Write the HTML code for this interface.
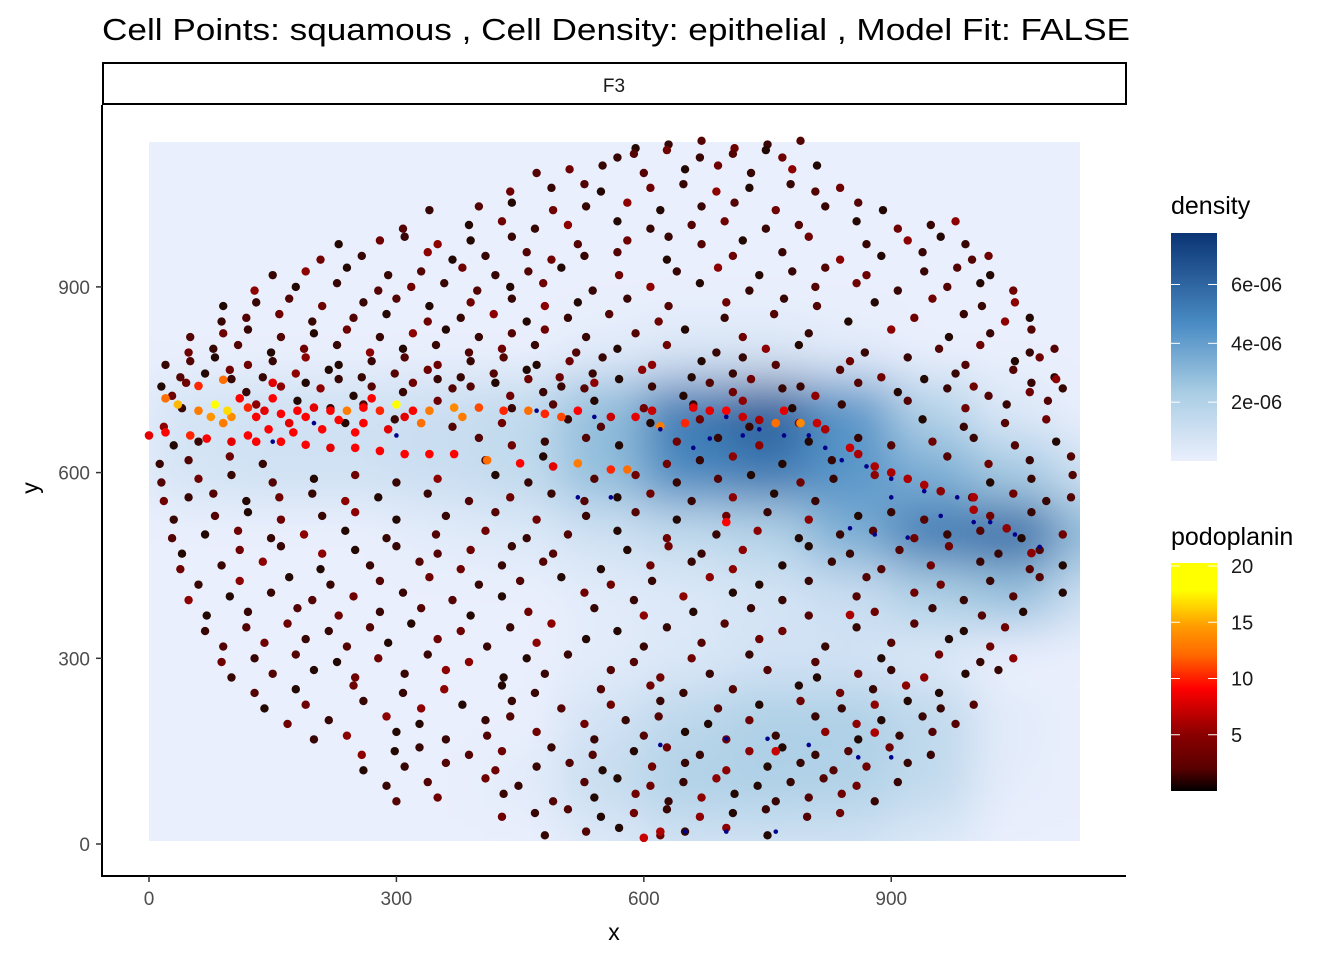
<!DOCTYPE html>
<html><head><meta charset="utf-8"><style>
body{margin:0;background:#fff;font-family:"Liberation Sans",Arial,sans-serif}
svg text{font-family:"Liberation Sans",Arial,sans-serif}
</style></head><body>
<svg id="chart" width="1344" height="960" xmlns="http://www.w3.org/2000/svg">
<defs>
<filter id="blur" x="-5%" y="-5%" width="110%" height="110%"><feGaussianBlur stdDeviation="24"/></filter>
<clipPath id="rclip"><rect x="149" y="142" width="931" height="699"/></clipPath>
<linearGradient id="dgrad" x1="0" y1="1" x2="0" y2="0">
<stop offset="0" stop-color="#eaeffd"/><stop offset="0.3" stop-color="#a9cde4"/><stop offset="0.6" stop-color="#4a8cc4"/><stop offset="1" stop-color="#0b3474"/></linearGradient>
<linearGradient id="pgrad" x1="0" y1="1" x2="0" y2="0">
<stop offset="0" stop-color="#000000"/><stop offset="0.1" stop-color="#5a0000"/><stop offset="0.25" stop-color="#8b0000"/><stop offset="0.45" stop-color="#ff0000"/><stop offset="0.6" stop-color="#ff6a00"/><stop offset="0.72" stop-color="#ff9a00"/><stop offset="0.88" stop-color="#ffff00"/><stop offset="1" stop-color="#ffff00"/></linearGradient>
</defs>
<text x="102" y="40" font-size="31" textLength="1028" lengthAdjust="spacingAndGlyphs" fill="#000">Cell Points: squamous , Cell Density: epithelial , Model Fit: FALSE</text>
<rect x="103" y="63" width="1023" height="41" fill="#fff" stroke="#000" stroke-width="2"/>
<text x="614" y="92" font-size="19" text-anchor="middle" fill="#1a1a1a">F3</text>
<g clip-path="url(#rclip)">
<rect x="149" y="142" width="931" height="699" fill="#eaeffd"/>
<g id="cells" filter="url(#blur)"></g>
</g>
<g id="pts"></g>
<line x1="102" y1="105" x2="102" y2="876" stroke="#000" stroke-width="2"/>
<line x1="101" y1="876" x2="1126" y2="876" stroke="#000" stroke-width="2"/>
<g id="axes"></g>
<text x="614" y="940" font-size="23" text-anchor="middle">x</text>
<text x="38" y="488" font-size="23" text-anchor="middle" transform="rotate(-90 38 488)">y</text>
<g>
<text x="1171" y="214" font-size="25">density</text>
<rect x="1171" y="233" width="46" height="228" fill="url(#dgrad)"/>
<g id="dleg"></g>
</g>
<g>
<text x="1171" y="545" font-size="25">podoplanin</text>
<rect x="1171" y="563" width="46" height="228" fill="url(#pgrad)"/>
<g id="pleg"></g>
</g>
</svg>
<script>
const xTicks=[0,300,600,900];
const yTicks=[0,300,600,900];
const gridX=[50,150,250,350,450,550,650,750,850,950,1050,1150];
const gridY=[1100,1000,900,800,700,600,500,400,300,200,100,0];
const densityGrid=[
[0,0,0,0,0,0,0,0,0,0,0,0],
[0,0,0,0,0,0,0,0,0,0,0,0],
[0,0,0,0,0,0,0,0,0,0,0,0],
[0,0,0,0,0,0.3,0.6,0.6,0.3,0,0,0],
[0.8,1,1,1.2,1.5,3,5.5,6.5,4.5,2,0.5,0],
[0.8,1,1,1.2,1.5,3,5,5.5,4.5,3.5,2.5,1],
[0,0,0,0.3,0.5,1,1.5,2,3.5,5.5,6,3],
[0,0,0,0,0,0.3,0.5,0.8,1.2,2.2,2.8,1],
[0,0,0,0,0,0.3,0.6,0.9,0.9,0.5,0,0],
[0,0,0,0,0,0.9,1.7,2.2,2.2,1.6,0.3,0],
[0,0,0,0,0.3,1.3,2.1,2.2,2.1,1.5,0.2,0],
[0,0,0,0,0,0.5,1,1,1,0.5,0,0]];
const densityTicks=[2,4,6];
const podoTicks=[5,10,15,20];
const darkBands={
1130:"590 630 670 710 750 790",
1115:"560 580 620 660 700 740 760",
1090:"470 510 550 600 650 690 730 780 810",
1060:"430 480 520 540 600 640 680 720 770 800 830",
1030:"340 400 440 490 530 580 620 670 710 760 820 860 890",
1000:"300 380 420 460 500 560 600 650 690 740 780 850 900 940 970",
975:"230 280 310 350 390 440 520 580 630 670 720 800 870 920 960 990",
950:"200 250 330 360 400 450 480 520 560 620 700 760 830 880 930 990 1010",
925:"150 190 240 290 330 380 420 460 500 570 640 690 740 780 820 870 940 980 1020",
900:"120 170 220 270 310 350 390 430 470 530 600 660 720 800 850 900 960 1000 1040",
875:"90 130 170 210 260 300 340 390 440 480 520 580 630 700 770 810 880 950 1010 1050",
850:"80 110 150 190 240 280 330 370 410 450 500 550 610 690 750 840 920 980 1030 1060",
825:"50 90 120 160 200 240 280 320 360 400 440 480 530 590 650 720 800 900 970 1020 1070",
800:"40 70 100 140 180 220 260 300 340 380 420 460 510 560 620 680 740 780 860 950 1000 1060 1090",
780:"20 50 80 120 150 190 230 270 310 350 390 430 470 510 550 610 670 720 760 850 920 990 1050 1080",
760:"30 60 90 130 170 210 250 290 330 370 410 450 490 530 590 650 700 830 880 970 1040 1090",
745:"15 45 100 160 190 230 270 320 350 390 420 460 500 540 570 610 680 730 790 860 940 1000 1070 1100",
730:"20 110 200 240 300 360 430 470 520 640 700 760 800 900 960 1010 1060 1100",
710:"40 130 180 220 260 350 440 490 540 600 660 720 780 840 920 990 1040 1090",
680:"10 230 290 360 420 500 540 600 660 720 780 930 980 1030 1080",
650:"30 60 400 440 480 530 570 640 690 740 800 860 900 950 1000 1050 1100",
620:"5 40 90 130 400 470 620 660 700 760 820 960 1010 1060 1110",
590:"15 60 100 150 200 250 300 350 420 460 540 590 640 690 730 790 830 880 1020 1070 1120",
560:"10 40 70 110 150 190 230 270 330 380 430 480 520 560 600 650 700 750 800 990 1040 1080 1110",
530:"30 80 120 160 210 250 300 360 420 470 530 590 640 700 750 800 860 900 940 1020 1070",
500:"20 60 100 140 180 230 280 340 400 450 500 560 620 680 730 780 830 870 920 960 1000 1050 1100",
475:"40 110 160 210 250 300 350 390 440 490 580 630 670 720 800 850 910 970 1030 1080",
450:"30 80 130 200 260 320 370 420 470 540 600 650 700 760 820 880 940 1000 1060 1100",
425:"60 110 170 220 280 340 400 450 500 560 610 680 740 800 870 960 1020 1080",
400:"40 90 140 190 240 300 360 420 520 580 640 700 760 850 920 980 1040 1100",
375:"70 120 180 230 280 330 390 460 540 600 660 730 800 880 950 1010 1060",
350:"60 110 160 210 260 310 370 430 480 560 620 690 760 850 920 980 1030",
325:"90 140 190 240 290 350 410 470 530 600 670 740 820 900 970 1020",
300:"80 120 170 220 270 330 380 450 500 580 650 720 800 880 950 1000 1040",
275:"100 150 200 250 310 360 430 480 560 620 680 750 810 860 900 940 990 1030",
250:"120 170 240 300 350 420 460 540 600 640 700 780 830 870 910 950",
225:"140 190 260 330 380 440 500 560 620 690 740 790 840 880 920 960 1000",
200:"160 210 280 320 400 430 520 570 610 670 720 800 850 880 930 970",
175:"200 240 300 360 410 470 540 600 650 700 760 820 860 910 950",
150:"250 290 320 380 420 480 530 580 620 660 720 760 800 840 890 940",
125:"260 310 360 420 470 510 550 610 650 700 750 790 830 870 920",
100:"280 330 400 440 520 560 600 640 680 730 770 810 850 900",
75:"300 350 430 490 540 590 630 670 710 760 800 840 880",
50:"420 460 500 540 580 620 660 700 740 790 830",
20:"480 530 570 620 650 700 750"};
const bandPodo=[1,2,3,4,2,3,1,4,2,5];
const redPoints="20,720,12 35,710,16 60,700,13 80,710,18 100,690,14 120,705,10 140,700,8 160,695,9 180,700,9 200,705,8 220,700,9 240,700,13 260,705,9 280,700,10 300,710,18 320,700,9 340,700,13 370,705,14 400,705,11 430,700,10 460,700,12 480,695,10 520,700,9 560,690,7 590,690,8 620,675,13 650,680,10 680,700,8 700,700,9 720,690,7 740,685,6 760,680,12 790,680,14 820,670,6 850,640,7 880,610,6 920,590,6 960,570,5 1000,560,6 0,660,8 20,665,9 50,660,10 70,655,9 100,650,8 130,650,9 160,650,9 190,645,9 220,640,8 250,640,9 280,635,9 310,630,9 340,630,9 370,630,9 410,620,12 450,615,9 490,610,8 520,615,13 560,605,10 580,605,12 90,680,13 110,720,9 150,720,9 170,680,8 210,670,9 260,680,9 330,680,12 90,750,12 60,740,10 150,745,8 700,520,9 850,370,6 880,180,6 760,150,7 600,10,7 620,20,6 130,690,9 145,670,9 175,665,9 190,690,9 230,685,9 250,665,9 290,670,8 120,660,9 75,690,15 95,700,17 270,720,9 310,690,8 380,690,13 500,690,11 610,700,7 660,705,8 770,700,8 810,680,7 860,630,6 900,600,6 940,580,6 1000,540,6 1040,510,5 1070,470,5";
const navyPoints="620,670 680,655 720,660 770,660 820,640 870,610 900,590 940,570 980,560 1020,520 1050,500 1080,480 880,500 920,495 850,510 700,170 750,170 800,160 860,140 900,140 650,20 700,20 760,20 620,160 520,560 560,560 300,660 200,680 150,650 470,700 540,690 660,640 700,690 740,670 800,660 840,620 960,530 1000,520 900,560";

const X=v=>149+v*0.8247, Y=v=>844-v*0.619;
const ns="http://www.w3.org/2000/svg";
function mk(t,a,p){const e=document.createElementNS(ns,t);for(const k in a)e.setAttribute(k,a[k]);p.appendChild(e);return e;}
function lerp(a,b,t){return a.map((v,i)=>Math.round(v+(b[i]-v)*t));}
function dcol(v){const st=[[0,[234,239,253]],[2.4,[169,205,228]],[4.8,[74,140,196]],[8,[11,52,116]]];
 for(let i=1;i<st.length;i++)if(v<=st[i][0]){const t=(v-st[i-1][0])/(st[i][0]-st[i-1][0]);return 'rgb('+lerp(st[i-1][1],st[i][1],t)+')';}return 'rgb(11,52,116)';}
function pcol(p){const st=[[0,[0,0,0]],[1,[35,8,2]],[2,[55,5,2]],[4,[110,0,0]],[7,[200,0,0]],[9,[255,0,0]],[12,[255,110,0]],[15,[255,150,0]],[18,[255,255,0]],[20,[255,255,0]]];
 for(let i=1;i<st.length;i++)if(p<=st[i][0]){const t=(p-st[i-1][0])/(st[i][0]-st[i-1][0]);return 'rgb('+lerp(st[i-1][1],st[i][1],t)+')';}return '#ff0';}
const cells=document.getElementById('cells');
densityGrid.forEach((row,r)=>row.forEach((v,c)=>{
 const e=mk('rect',{x:X(gridX[c]-50),y:Y(gridY[r]+50),width:0.8247*100+1,height:0.619*100+1,fill:dcol(v)},cells);
 
 
}));
const pts=document.getElementById('pts');
let bi=0;
for(const y of Object.keys(darkBands).sort((a,b)=>b-a)){
 darkBands[y].split(' ').forEach((x,j)=>{
  const p=bandPodo[(j+bi)%bandPodo.length];
  const jy=((j%3)-1)*6;
  const e=mk('circle',{cx:X(+x+((bi%2)?8:0)),cy:Y(+y+jy),r:4.2,fill:pcol(p)},pts);
  
  
 });bi++;
}
redPoints.split(' ').forEach(s=>{const [x,y,p]=s.split(',').map(Number);
 const e=mk('circle',{cx:X(x),cy:Y(y),r:4.3,fill:pcol(p)},pts);
 
 
});
navyPoints.split(' ').forEach(s=>{const [x,y]=s.split(',').map(Number);
 const e=mk('circle',{cx:X(x),cy:Y(y),r:2.3,fill:'#00008b'},pts);
 
 
});
const ax=document.getElementById('axes');
xTicks.forEach(v=>{mk('line',{x1:X(v),x2:X(v),y1:876,y2:882,stroke:'#333','stroke-width':1.5},ax);
 const t=mk('text',{x:X(v),y:905,'font-size':19,'text-anchor':'middle',fill:'#4d4d4d'},ax);t.textContent=v;
 
 });
yTicks.forEach(v=>{mk('line',{x1:96,x2:102,y1:Y(v),y2:Y(v),stroke:'#333','stroke-width':1.5},ax);
 const t=mk('text',{x:90,y:Y(v)+7,'font-size':19,'text-anchor':'end',fill:'#4d4d4d'},ax);t.textContent=v;
 
 });
const dl=document.getElementById('dleg');
densityTicks.forEach(v=>{const y=461-(v/7.75)*228;
 mk('line',{x1:1171,x2:1180,y1:y,y2:y,stroke:'#fff','stroke-width':1},dl);mk('line',{x1:1208,x2:1217,y1:y,y2:y,stroke:'#fff','stroke-width':1},dl);
 const t=mk('text',{x:1231,y:y+7,'font-size':20,fill:'#1a1a1a'},dl);t.textContent=v+'e-06';
 
 });
const pl=document.getElementById('pleg');
podoTicks.forEach(v=>{const y=791-(v/20)*225;
 mk('line',{x1:1171,x2:1180,y1:y,y2:y,stroke:'#fff','stroke-width':1},pl);mk('line',{x1:1208,x2:1217,y1:y,y2:y,stroke:'#fff','stroke-width':1},pl);
 const t=mk('text',{x:1231,y:y+7,'font-size':20,fill:'#1a1a1a'},pl);t.textContent=v;
 
 });
</script>
</body></html>
